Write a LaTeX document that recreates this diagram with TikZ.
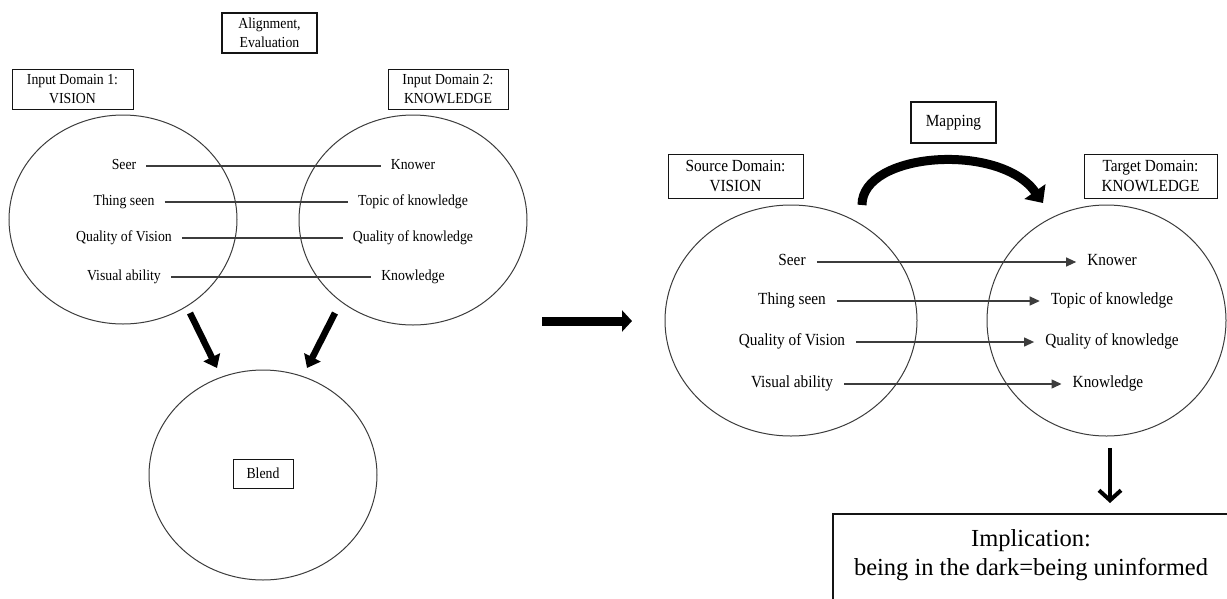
\documentclass[tikz,border=0pt]{standalone}
\usepackage{fontspec}
\setmainfont{Liberation Serif}
\newfontfamily\condfont[FakeStretch=0.9]{Liberation Serif}
\usetikzlibrary{positioning,arrows.meta,shapes.geometric}
\definecolor{bdInk}{RGB}{20,20,20}
\definecolor{bdLine}{RGB}{60,60,60}

\begin{document}
\begin{tikzpicture}[x=1pt, y=-1pt,
  domcirc/.style={draw=bdLine, line width=1pt, ellipse, inner sep=0pt},
  lblL/.style={font=\condfont\fontsize{15.3}{19}\selectfont, text height=7pt, text depth=0pt, inner xsep=10pt},
  lblR/.style={font=\condfont\fontsize{17}{20}\selectfont, text height=7.6pt, text depth=0pt, inner xsep=11pt},
  dombox/.style={draw=bdInk, line width=1pt, inner sep=0pt, align=center},
  headbox/.style={dombox, line width=2.6pt},
  pairline/.style={draw=bdLine, line width=1.1pt},
  maparr/.style={draw=bdLine, line width=1.2pt, -{Triangle[length=10pt,width=9pt]}},
  fatarr/.style={line width=6.5pt, -{Triangle[length=12pt,width=18pt]}}
]
  \clip (0,0) rectangle (1227,598);

  % blending network
  \node[domcirc, minimum width=228, minimum height=209] (inA) at (123,219.5) {};
  \node[domcirc, minimum width=228, minimum height=210] (inB) at (413,220) {};
  \node[domcirc, minimum width=228, minimum height=210] (blend) at (263,475) {};

  \node[headbox, minimum width=95, minimum height=40, font=\condfont\fontsize{15.3}{19}\selectfont]
    (align) at (269.5,33) {Alignment,\\Evaluation};
  \node[dombox, minimum width=121, minimum height=40, font=\condfont\fontsize{15.3}{19}\selectfont]
    (inAbox) at (72.5,89) {Input Domain 1:\\VISION};
  \node[dombox, minimum width=120, minimum height=40, font=\condfont\fontsize{15.3}{19}\selectfont]
    (inBbox) at (448,89.5) {Input Domain 2:\\KNOWLEDGE};
  \node[dombox, minimum width=60, minimum height=29, font=\condfont\fontsize{15.3}{19}\selectfont]
    (blendbox) at (263,473.5) {Blend};

  \node[lblL] (seerL) at (124,166) {Seer};
  \node[lblL] (thingL) at (124,202) {Thing seen};
  \node[lblL] (qualvL) at (124,238) {Quality of Vision};
  \node[lblL] (visL) at (124,277) {Visual ability};
  \node[lblL] (knowerL) at (413,166) {Knower};
  \node[lblL] (topicL) at (413,202) {Topic of knowledge};
  \node[lblL] (qualkL) at (413,238) {Quality of knowledge};
  \node[lblL] (knowL) at (413,277) {Knowledge};

  \draw[pairline] (seerL) -- (knowerL);
  \draw[pairline] (thingL) -- (topicL);
  \draw[pairline] (qualvL) -- (qualkL);
  \draw[pairline] (visL) -- (knowL);

  \coordinate (fA1) at (190,313);
  \coordinate (fA2) at (217,368);
  \coordinate (fB1) at (335,313);
  \coordinate (fB2) at (307,368);
  \draw[fatarr] (fA1) -- (fA2);
  \draw[fatarr] (fB1) -- (fB2);

  % step to the metaphor
  \coordinate (midA) at (542,321);
  \coordinate (midB) at (632,321);
  \draw[line width=9pt, -{Triangle[length=10pt,width=21pt]}] (midA) -- (midB);

  % conceptual metaphor
  \node[domcirc, minimum width=252, minimum height=231] (src) at (791,320.5) {};
  \node[domcirc, minimum width=239, minimum height=231] (tgt) at (1106.5,320.5) {};

  \node[dombox, minimum width=135, minimum height=44, font=\condfont\fontsize{17}{20}\selectfont]
    (srcbox) at (735.5,176) {Source Domain:\\VISION};
  \node[dombox, minimum width=133, minimum height=44, font=\condfont\fontsize{17}{20}\selectfont]
    (tgtbox) at (1150.5,176) {Target Domain:\\KNOWLEDGE};
  \node[headbox, minimum width=85, minimum height=41, font=\condfont\fontsize{17}{20}\selectfont]
    (mapbox) at (953.5,122.5) {Mapping};

  \coordinate (bowA) at (862,205);
  \coordinate (bowB) at (1043,203);
  \draw[line width=9pt, -{Triangle[length=14pt,width=25pt]}]
    (bowA) .. controls (862,152) and (1000,142) .. (bowB);

  \node[lblR] (seerR) at (792,262) {Seer};
  \node[lblR] (thingR) at (792,301) {Thing seen};
  \node[lblR] (qualvR) at (792,342) {Quality of Vision};
  \node[lblR] (visR) at (792,384) {Visual ability};
  \node[lblR] (knowerR) at (1112,262) {Knower};
  \node[lblR] (topicR) at (1112,301) {Topic of knowledge};
  \node[lblR] (qualkR) at (1112,342) {Quality of knowledge};
  \node[lblR] (knowR) at (1108,384) {Knowledge};

  \draw[maparr] (seerR) -- (knowerR);
  \draw[maparr] (thingR) -- (topicR);
  \draw[maparr] (qualvR) -- (qualkR);
  \draw[maparr] (visR) -- (knowR);

  % implication
  \node[draw=bdInk, line width=1.8pt, inner sep=0pt, minimum width=398, minimum height=120,
    anchor=north west] (impl) at (832,513) {};
  \node[align=center, inner sep=0pt, anchor=north, font=\fontsize{24.5}{29}\selectfont]
    (impltxt) at (1031,529) {Implication:\\being in the dark=being uninformed};

  \coordinate (dnA) at (1110,448);
  \coordinate (dnB) at (1110,503);
  \draw[line width=4pt, -{Straight Barb[length=10pt,width=22pt]}] (dnA) -- (dnB);
\end{tikzpicture}
\end{document}
